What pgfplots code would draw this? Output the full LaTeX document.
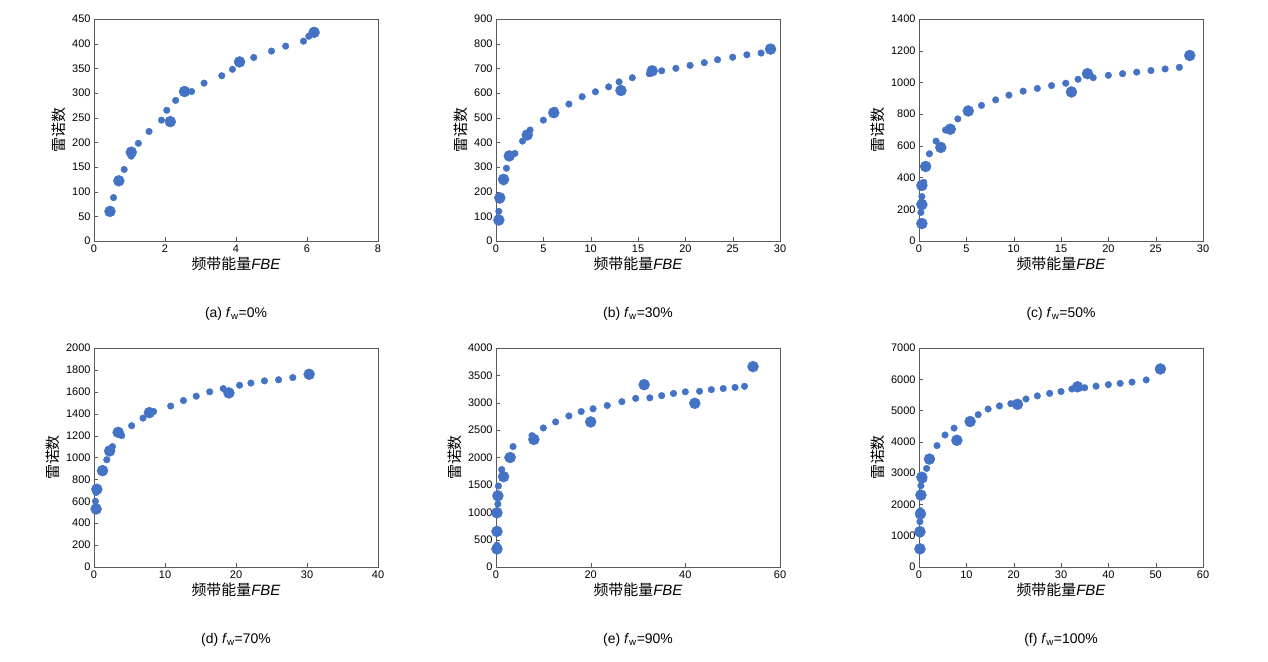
\documentclass[border=0pt]{standalone}
\usepackage{pgfplots}
\pgfplotsset{compat=1.18}
\usepackage{fontspec}
\setmainfont{Liberation Sans}
\newfontfamily\cjk{Noto Sans CJK SC}
\definecolor{pt}{RGB}{68,114,196}
\definecolor{ax}{RGB}{90,90,90}
\pgfplotsset{
 panel/.style={scale only axis, width=284bp, height=222bp,
  axis line style={ax}, tick style={ax}, tick align=inside,
  xtick pos=bottom, ytick pos=left, major tick length=4bp,
  ticklabel style={font=\fontsize{11}{13}\selectfont},
  /pgf/number format/assume math mode=true,
  /pgf/number format/1000 sep={},
  ylabel={\cjk 雷诺数}, ylabel style={font=\fontsize{15}{17}\selectfont},
  xlabel={{\cjk 频带能量}\textit{FBE}}, xlabel style={font=\fontsize{15}{17}\selectfont, yshift=2bp},
  clip=false},
 sm/.style={only marks, mark=*, mark size=3.3bp, color=pt},
 lg/.style={only marks, mark=*, mark size=5.5bp, color=pt},
}
\newcommand{\subcap}[1]{\node[font=\fontsize{14}{16}\selectfont] at ([yshift=-73bp]rel axis cs:0.5,0) {#1};}
\begin{document}
\begin{tikzpicture}[x=1bp,y=1bp]
\path (0,0) rectangle (1268,-662);
% (a)
\begin{axis}[panel, at={(94bp,-241bp)}, anchor=south west, xmin=0,xmax=8,ymin=0,ymax=450, xtick={0,2,...,8}, ytick={0,50,...,450}]
\addplot[sm] coordinates {(0.55,88)(0.85,145)(1.05,172)(1.25,198)(1.55,222)(1.9,245)(2.05,265)(2.3,285)(2.75,303)(3.1,320)(3.6,335)(3.9,348)(4.5,372)(5.0,385)(5.4,395)(5.9,405)(6.05,415)};
\addplot[lg] coordinates {(0.45,60)(0.7,122)(1.05,180)(2.15,242)(2.55,303)(4.1,363)(6.2,423)};
\subcap{(a) \textit{f}\textsubscript{w}=0\%}
\end{axis}
% (b)
\begin{axis}[panel, at={(496bp,-241bp)}, anchor=south west, xmin=0,xmax=30,ymin=0,ymax=900, xtick={0,5,...,30}, ytick={0,100,...,900}]
\addplot[sm] coordinates {(0.3,120)(0.4,165)(0.8,240)(1.1,295)(2,355)(2.8,405)(3.6,450)(5,490)(6.2,530)(7.7,555)(9.1,585)(10.5,605)(11.9,625)(13,645)(14.4,662)(16.2,678)(17.5,690)(19,700)(20.5,712)(22,723)(23.4,735)(25,745)(26.5,755)(28,762)};
\addplot[lg] coordinates {(0.3,85)(0.4,175)(0.8,250)(1.4,345)(3.3,430)(6.1,520)(13.2,610)(16.5,690)(29,778)};
\subcap{(b) \textit{f}\textsubscript{w}=30\%}
\end{axis}
% (c)
\begin{axis}[panel, at={(919bp,-241bp)}, anchor=south west, xmin=0,xmax=30,ymin=0,ymax=1400, xtick={0,5,...,30}, ytick={0,200,...,1400}]
\addplot[sm] coordinates {(0.2,180)(0.3,280)(0.5,370)(1.1,550)(1.8,630)(2.8,700)(4.1,770)(6.6,855)(8.1,890)(9.5,920)(11,945)(12.5,962)(14,980)(15.5,995)(16.8,1020)(18.4,1030)(20,1045)(21.5,1055)(23,1065)(24.5,1075)(26,1085)(27.5,1095)};
\addplot[lg] coordinates {(0.3,110)(0.3,230)(0.3,350)(0.7,470)(2.3,590)(3.3,705)(5.2,820)(16.1,940)(17.8,1055)(28.6,1170)};
\subcap{(c) \textit{f}\textsubscript{w}=50\%}
\end{axis}
% (d)
\begin{axis}[panel, at={(94bp,-567bp)}, anchor=south west, height=219bp, xmin=0,xmax=40,ymin=0,ymax=2000, xtick={0,10,...,40}, ytick={0,200,...,2000}]
\addplot[sm] coordinates {(0.2,600)(0.3,680)(1,870)(1.8,980)(2.6,1100)(3.9,1200)(5.3,1290)(6.9,1360)(8.4,1420)(10.8,1470)(12.6,1520)(14.4,1560)(16.3,1600)(18.2,1630)(20.5,1660)(22.1,1680)(24,1700)(26,1710)(28,1730)};
\addplot[lg] coordinates {(0.3,530)(0.4,710)(1.2,880)(2.2,1060)(3.4,1230)(7.8,1410)(19,1590)(30.3,1760)};
\subcap{(d) \textit{f}\textsubscript{w}=70\%}
\end{axis}
% (e)
\begin{axis}[panel, at={(496bp,-567bp)}, anchor=south west, height=219bp, xmin=0,xmax=60,ymin=0,ymax=4000, xtick={0,20,...,60}, ytick={0,500,...,4000}]
\addplot[sm] coordinates {(0.2,400)(0.4,1150)(0.5,1480)(1.2,1780)(2.5,2000)(3.6,2200)(7.6,2400)(10,2540)(12.6,2650)(15.4,2760)(18,2840)(20.5,2890)(23.5,2950)(26.6,3020)(29.5,3080)(32.5,3090)(35,3130)(37.5,3170)(40,3200)(43,3210)(45.5,3240)(48,3260)(50.5,3280)(52.5,3300)};
\addplot[lg] coordinates {(0.2,330)(0.2,650)(0.2,990)(0.4,1300)(1.6,1650)(3,2000)(8,2330)(20,2650)(31.3,3330)(42,2990)(54.3,3660)};
\subcap{(e) \textit{f}\textsubscript{w}=90\%}
\end{axis}
% (f)
\begin{axis}[panel, at={(919bp,-567bp)}, anchor=south west, height=219bp, xmin=0,xmax=60,ymin=0,ymax=7000, xtick={0,10,...,60}, ytick={0,1000,...,7000}]
\addplot[sm] coordinates {(0.2,1050)(0.2,1450)(0.3,1800)(0.4,2600)(1,2800)(1.6,3150)(3.8,3880)(5.5,4220)(7.4,4440)(12.5,4870)(14.6,5050)(17,5150)(19.4,5220)(22.6,5370)(25,5470)(27.6,5550)(30,5610)(32.3,5690)(35,5730)(37.4,5780)(40,5830)(42.5,5870)(45,5910)(48,5980)};
\addplot[lg] coordinates {(0.2,580)(0.2,1130)(0.3,1700)(0.4,2300)(0.6,2870)(2.2,3450)(8,4050)(10.8,4650)(20.8,5200)(33.5,5760)(51,6330)};
\subcap{(f) \textit{f}\textsubscript{w}=100\%}
\end{axis}
\end{tikzpicture}
\end{document}
